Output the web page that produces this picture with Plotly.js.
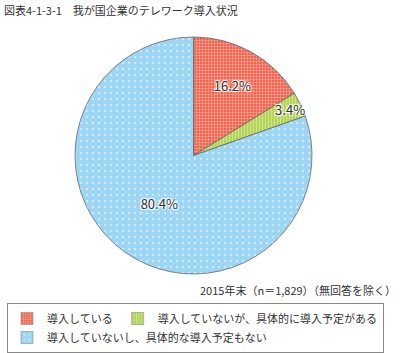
<!DOCTYPE html>
<html>
<head>
<meta charset="utf-8">
<script src="https://cdn.plot.ly/plotly-3.0.1.min.js"></script>
<style>html,body{margin:0;padding:0;background:#fff;}#chart{width:404px;height:353px;}</style>
</head>
<body>
<div id="chart"></div>
<script>
const categories = ["導入している", "導入していないが、具体的に導入予定がある", "導入していないし、具体的な導入予定もない"];
const values = [16.2, 3.4, 80.4];
const labelsText = ["16.2%", "3.4%", "80.4%"];
const colors = ["#ee6650", "#b4d45a", "#9dd6f4"];
const patternFg = ["#ffffff", "#e6f2bd", "#ffffff"];
const patternShapes = ["+", "|", "."];
const patternSizes = [3, 3, 6];
const patternSolidity = [0.3, 0.35, 0.12];

const JP = '"Noto Sans CJK JP", "Noto Sans", sans-serif';
const halo = "1px 1px 1px #fff, -1px -1px 1px #fff, 1px -1px 1px #fff, -1px 1px 1px #fff";

const pie = {
  type: "pie",
  labels: categories,
  values: values,
  text: labelsText,
  textinfo: "text",
  hoverinfo: "label+text",
  sort: false,
  direction: "clockwise",
  rotation: 0,
  showlegend: false,
  textposition: "inside",
  insidetextorientation: "horizontal",
  textfont: {family: JP, size: 13, color: "#333", shadow: halo},
  marker: {
    colors: colors,
    line: {color: "#666", width: 0.8},
    pattern: {
      shape: patternShapes,
      fillmode: "overlay",
      fgcolor: patternFg,
      bgcolor: colors,
      size: patternSizes,
      solidity: patternSolidity
    }
  },
  domain: {x: [75/404, 312/404], y: [1 - 274/353, 1 - 37/353]}
};

// legend entries (one legend group per category so the legend wraps like the original);
// the bars sit on a hidden axis whose range keeps them out of view
const legendTraces = categories.map((c, i) => ({
  type: "bar",
  name: c,
  x: [c], y: [values[i]],
  legendgroup: "g" + i,
  showlegend: true,
  hoverinfo: "skip",
  marker: {
    color: colors[i],
    line: {color: "#888", width: 0.6},
    pattern: {
      shape: patternShapes[i],
      fillmode: "overlay",
      fgcolor: patternFg[i],
      bgcolor: colors[i],
      size: patternSizes[i],
      solidity: patternSolidity[i]
    }
  }
}));

const layout = {
  width: 404,
  height: 353,
  margin: {l: 0, r: 0, t: 0, b: 0, autoexpand: false},
  paper_bgcolor: "#fff",
  plot_bgcolor: "rgba(0,0,0,0)",
  font: {family: JP, size: 11, color: "#333"},
  xaxis: {visible: false, fixedrange: true, domain: [0, 0.01]},
  yaxis: {visible: false, fixedrange: true, range: [1000, 1001], domain: [0, 0.01]},
  title: {
    text: "図表4-1-3-1　我が国企業のテレワーク導入状況",
    x: 4/404, xanchor: "left",
    y: 1 - 11/353, yanchor: "middle",
    font: {family: JP, size: 11, color: "#333"}
  },
  showlegend: true,
  legend: {
    orientation: "h",
    x: 7/404, xanchor: "left",
    y: 1 - 303/353, yanchor: "top",
    bordercolor: "#888",
    borderwidth: 1,
    bgcolor: "#fff",
    font: {family: JP, size: 11, color: "#333"},
    traceorder: "grouped",
    tracegroupgap: 0,
    itemwidth: 30
  },
  uniformtext: {minsize: 13, mode: "show"},
  annotations: [{
    text: "2015年末（n＝1,829）（無回答を除く）",
    xref: "paper", yref: "paper",
    x: 398/404, xanchor: "right",
    y: 1 - 290/353, yanchor: "middle",
    showarrow: false,
    font: {family: JP, size: 11, color: "#333"}
  }]
};

Plotly.newPlot("chart", [pie].concat(legendTraces), layout, {displayModeBar: false, staticPlot: true});
</script>
</body>
</html>
